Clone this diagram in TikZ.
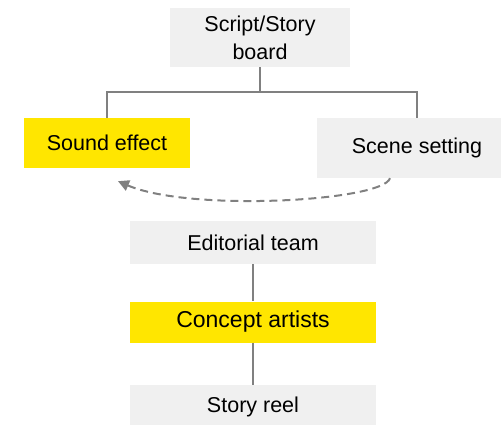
\documentclass[tikz,border=0pt]{standalone}
\usepackage{fontspec}
\setmainfont{Liberation Sans}
\usetikzlibrary{arrows.meta}

\definecolor{boxgray}{RGB}{240,240,240}
\definecolor{boxyellow}{RGB}{255,230,0}
\definecolor{linegray}{RGB}{128,128,128}

\begin{document}
\begin{tikzpicture}[x=1pt,y=-1pt]

        \useasboundingbox (0,0) rectangle (501,424);
        \clip (0,0) rectangle (501,424);

        \begin{scope}[every node/.style={inner sep=0pt,align=center,
            font=\fontsize{21.5}{28}\selectfont}]
          \node[fill=boxgray,minimum width=180pt,minimum height=59pt]   (1) at (260,37.5) {Script/Story\\board};
          \node[fill=boxyellow,minimum width=166pt,minimum height=50pt] (2) at (107,143)  {Sound effect};
          \node[fill=boxgray,minimum width=200pt,minimum height=60pt]   (3) at (417,148)  {Scene setting};
          \node[fill=boxgray,minimum width=246pt,minimum height=43pt]   (4) at (253,242.5) {Editorial team};
          \node[fill=boxyellow,minimum width=246pt,minimum height=41pt,
                font=\fontsize{23}{28}\selectfont]                      (5) at (253,322)  {Concept artists};
          \node[fill=boxgray,minimum width=246pt,minimum height=43pt]   (6) at (253,406.5) {Story reel};
        \end{scope}

        \begin{scope}[linegray,line width=2pt]
          \draw (1.south) -- ++(0,25) -| (2.north);
          \draw (1.south) -- ++(0,25) -| (3.north);

          \begin{scope}[every edge/.style={draw}]
            \path (4) edge (5);
            \path (5) edge (6);
          \end{scope}

          % dashed return from scene setting to sound effect
          \draw[dash pattern=on 8pt off 5pt,-{Triangle[length=11pt,width=11pt]}]
            ([xshift=-27pt]3.south) .. controls +(-7,23) and +(72,31) .. ([xshift=11pt,yshift=-13pt]2.south);
        \end{scope}

      \end{tikzpicture}
\end{document}
